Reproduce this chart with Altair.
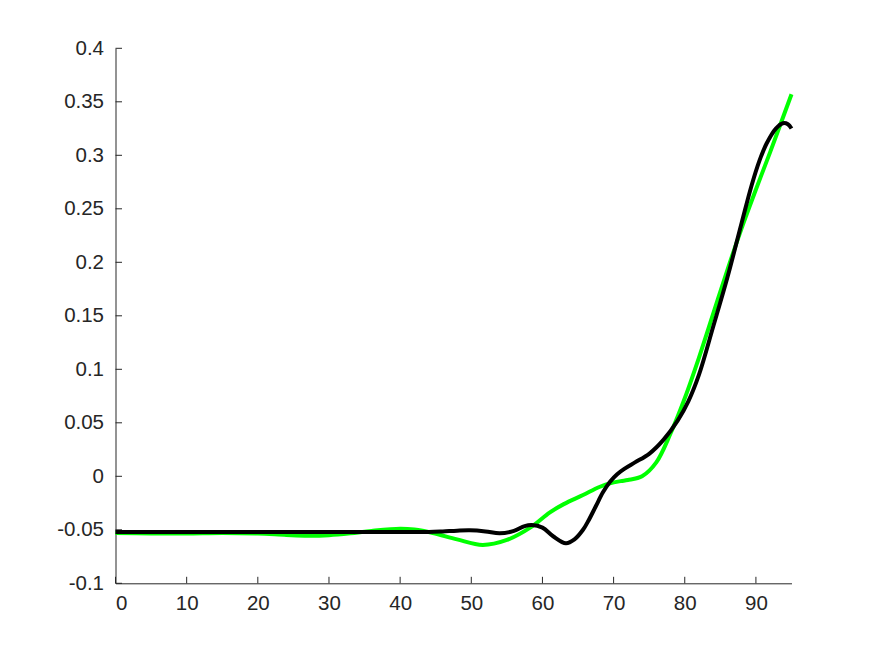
import altair as alt
import pandas as pd

green_x = [0, 5, 10, 15, 20, 24, 27, 30, 33, 36, 40, 42, 44.6, 48, 51.6, 55, 58.5, 61, 63, 65.7, 68, 69.5, 71, 72, 74, 76, 78, 80, 82, 84, 86, 88, 90, 92, 95]
green_y = [-0.053, -0.0535, -0.0535, -0.053, -0.0535, -0.0548, -0.0555, -0.055, -0.0533, -0.051, -0.049, -0.0498, -0.053, -0.059, -0.0642, -0.0595, -0.047, -0.034, -0.026, -0.0175, -0.010, -0.0065, -0.0045, -0.0035, 0.0, 0.013, 0.040, 0.073, 0.111, 0.152, 0.193, 0.232, 0.268, 0.303, 0.357]

black_x = [0, 10, 20, 30, 40, 44, 46, 48, 49.8, 52, 54, 56, 57.5, 58.5, 60, 61.5, 63.3, 64.5, 65.7, 66.5, 67.5, 68.5, 69.5, 70.5, 71.5, 73, 75, 77, 79, 80.5, 82, 84, 86, 88, 89.4, 90.5, 91.5, 92.8, 93.8, 94.5, 95]
black_y = [-0.052, -0.052, -0.052, -0.052, -0.052, -0.052, -0.0515, -0.0508, -0.0505, -0.0515, -0.0533, -0.051, -0.0465, -0.0455, -0.048, -0.056, -0.0626, -0.059, -0.050, -0.041, -0.028, -0.015, -0.005, 0.002, 0.007, 0.013, 0.021, 0.034, 0.052, 0.070, 0.095, 0.140, 0.186, 0.237, 0.272, 0.295, 0.311, 0.325, 0.330, 0.329, 0.325]

x_ticks = [0, 10, 20, 30, 40, 50, 60, 70, 80, 90]
y_ticks = [-0.1, -0.05, 0, 0.05, 0.1, 0.15, 0.2, 0.25, 0.3, 0.35, 0.4]

W, H = 676, 535
FONT = "Liberation Sans"
TXT = "#262626"

green_df = pd.DataFrame({"x": green_x, "y": green_y})
black_df = pd.DataFrame({"x": black_x, "y": black_y})

xs = alt.Scale(domain=[0, 95], nice=False, zero=False)
ys = alt.Scale(domain=[-0.1, 0.4], nice=False, zero=False)

label_expr = "replace(format(datum.value, '.2~f'), '\u2212', '-')"

xaxis = alt.Axis(values=x_ticks, ticks=False, grid=False, domainColor=TXT, domainWidth=1,
                 labelFont=FONT, labelFontSize=20.5, labelColor=TXT, labelPadding=10, title=None,
                 labelExpr=label_expr)
yaxis = alt.Axis(values=y_ticks, ticks=False, grid=False, domainColor=TXT, domainWidth=1,
                 labelFont=FONT, labelFontSize=20.5, labelColor=TXT, labelPadding=12, title=None,
                 labelExpr=label_expr)

green = alt.Chart(green_df).mark_line(color="#00FF00", strokeWidth=4, interpolate="catmull-rom").encode(
    x=alt.X("x:Q", scale=xs, axis=xaxis),
    y=alt.Y("y:Q", scale=ys, axis=yaxis),
)
black = alt.Chart(black_df).mark_line(color="#000000", strokeWidth=4, interpolate="catmull-rom").encode(
    x=alt.X("x:Q", scale=xs),
    y=alt.Y("y:Q", scale=ys),
)

xt = alt.Chart(pd.DataFrame({"t": x_ticks})).mark_rule(color=TXT, strokeWidth=1).encode(
    x=alt.X("t:Q", scale=xs),
    y=alt.value(H),
    y2=alt.value(H - 6.5),
)
yt = alt.Chart(pd.DataFrame({"t": y_ticks})).mark_rule(color=TXT, strokeWidth=1).encode(
    y=alt.Y("t:Q", scale=ys),
    x=alt.value(0),
    x2=alt.value(6.5),
)

chart = alt.layer(xt, yt, green, black).properties(
    width=W, height=H,
    background="white",
    autosize=alt.AutoSizeParams(type="none"),
    padding={"left": 107.5, "top": 40.3, "right": 60, "bottom": 50},
).configure_view(strokeWidth=0, stroke=None)

chart.save("out.html", embed_options={"renderer": "svg", "actions": False})
